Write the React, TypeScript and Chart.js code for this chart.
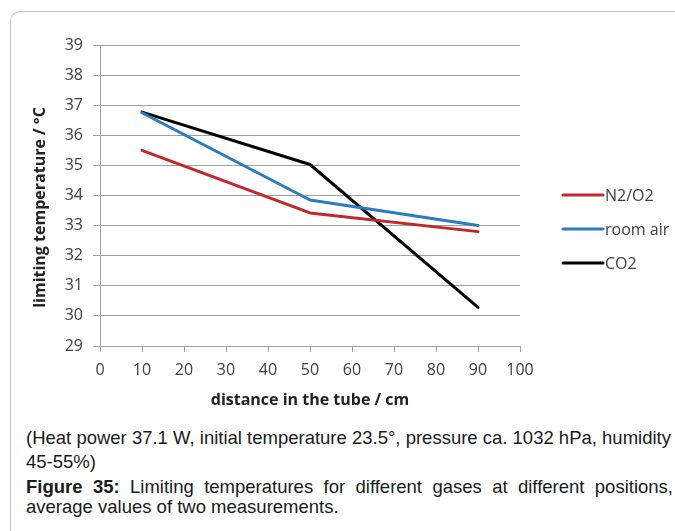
import React, { useEffect, useRef } from "react";
import { Chart, registerables } from "chart.js";

Chart.register(...registerables);

// ---- data ----
const distances = [10, 50, 90];
const n2o2Values = [35.5, 33.42, 32.8];
const roomAirValues = [36.75, 33.85, 33.0];
const co2Values = [36.77, 35.03, 30.28];
const seriesLabels = ["N2/O2", "room air", "CO2"];
const seriesColors = ["#c0282e", "#2a7bc2", "#000000"];
const xRange = [0, 100];
const xStep = 10;
const yRange = [29, 39];
const yStep = 1;
const xTitle = "distance in the tube / cm";
const yTitle = "limiting temperature / °C";
const noteLine1 = "(Heat power 37.1 W, initial temperature 23.5°, pressure ca. 1032 hPa, humidity";
const noteLine2 = "45-55%)";
const figLabel = "Figure 35:";
const figLine1 = " Limiting temperatures for different gases at different positions,";
const figLine2 = "average values of two measurements.";

const FAMILY = "'Open Sans', 'Noto Sans', sans-serif";
const TICK_FONT = { family: FAMILY, size: 16 };
const TITLE_FONT = { family: FAMILY, size: 16, weight: "bold" as const };
const GRID = "#a0a0a0";

const customPlugin = {
  id: "customDecor",
  afterDraw(chart: any) {
    const { ctx, chartArea } = chart;
    ctx.save();
    // y axis title
    ctx.translate(40, (chartArea.top + chartArea.bottom) / 2 + 12);
    ctx.rotate(-Math.PI / 2);
    ctx.font = `bold 16px ${FAMILY}`;
    ctx.fillStyle = "#222222";
    ctx.textAlign = "center";
    ctx.textBaseline = "middle";
    ctx.fillText(yTitle, 0, 0);
    ctx.restore();

    // legend
    ctx.save();
    const ds = chart.data.datasets;
    const rowH = 34;
    const centerY = 229;
    const startX = 563;
    const lineLen = 40;
    ctx.font = `16px ${FAMILY}`;
    ctx.textBaseline = "middle";
    ctx.textAlign = "left";
    ds.forEach((d: any, i: number) => {
      const y = centerY + (i - (ds.length - 1) / 2) * rowH;
      ctx.strokeStyle = d.borderColor;
      ctx.lineWidth = 3;
      ctx.lineCap = "round";
      ctx.beginPath();
      ctx.moveTo(startX, y);
      ctx.lineTo(startX + lineLen, y);
      ctx.stroke();
      ctx.fillStyle = "#404040";
      ctx.fillText(d.label, startX + lineLen + 2, y + 1);
    });
    ctx.restore();
  },
};

function ChartView() {
  const ref = useRef<HTMLCanvasElement | null>(null);
  useEffect(() => {
    if (!ref.current) return;
    const series = [n2o2Values, roomAirValues, co2Values];
    const chart = new Chart(ref.current, {
      type: "line",
      data: {
        datasets: series.map((vals, i) => ({
          label: seriesLabels[i],
          data: distances.map((x, j) => ({ x, y: vals[j] })),
          borderColor: seriesColors[i],
          backgroundColor: seriesColors[i],
          borderWidth: 3,
          pointRadius: 0,
          tension: 0,
          borderCapStyle: "round",
          borderJoinStyle: "round",
        })),
      },
      options: {
        responsive: false,
        animation: false,
        layout: { padding: { left: 0, right: 155, top: 45, bottom: 0 } },
        plugins: { legend: { display: false }, tooltip: { enabled: false } },
        scales: {
          x: {
            type: "linear",
            min: xRange[0],
            max: xRange[1],
            ticks: { stepSize: xStep, color: "#404040", font: TICK_FONT, padding: 9, maxRotation: 0 },
            grid: { drawOnChartArea: false, drawTicks: true, tickLength: 6, color: GRID },
            border: { color: GRID },
            title: { display: true, text: xTitle, font: TITLE_FONT, color: "#222222", padding: { top: 0, bottom: 5 } },
            afterFit: (s: any) => { s.height = 69; },
          },
          y: {
            min: yRange[0],
            max: yRange[1],
            ticks: { stepSize: yStep, color: "#404040", font: TICK_FONT, padding: 10 },
            grid: { color: GRID, tickLength: 7 },
            border: { color: GRID },
            afterFit: (s: any) => { s.width = 100; },
          },
        },
      },
      plugins: [customPlugin],
    });
    return () => chart.destroy();
  }, []);
  return <canvas ref={ref} width={675} height={415} style={{ position: "absolute", left: 0, top: 0 }} />;
}

export default function App() {
  const cap: React.CSSProperties = {
    position: "absolute",
    left: 26,
    width: 647,
    fontFamily: "'Liberation Sans', Arial, sans-serif",
    fontSize: 18.5,
    color: "#1a1a1a",
  };
  const justified: React.CSSProperties = {
    whiteSpace: "nowrap",
    textAlign: "justify",
    textAlignLast: "justify",
  };
  return (
    <div style={{ position: "fixed", left: 0, top: 0, width: 675, height: 531, overflow: "hidden", background: "#fff" }}>
      <div
        style={{
          position: "absolute",
          left: 10,
          top: 11,
          width: 900,
          height: 900,
          borderTop: "1px solid #c6c6c6",
          borderLeft: "1px solid #c6c6c6",
          borderTopLeftRadius: 10,
        }}
      />
      <ChartView />
      <div style={{ ...cap, top: 426, lineHeight: "24px" }}>
        <div style={{ whiteSpace: "nowrap" }}>{noteLine1}</div>
        <div>{noteLine2}</div>
      </div>
      <div style={{ ...cap, top: 477, lineHeight: "20px" }}>
        <div style={justified}>
          <b>{figLabel}</b>
          {figLine1}
        </div>
        <div>{figLine2}</div>
      </div>
    </div>
  );
}
